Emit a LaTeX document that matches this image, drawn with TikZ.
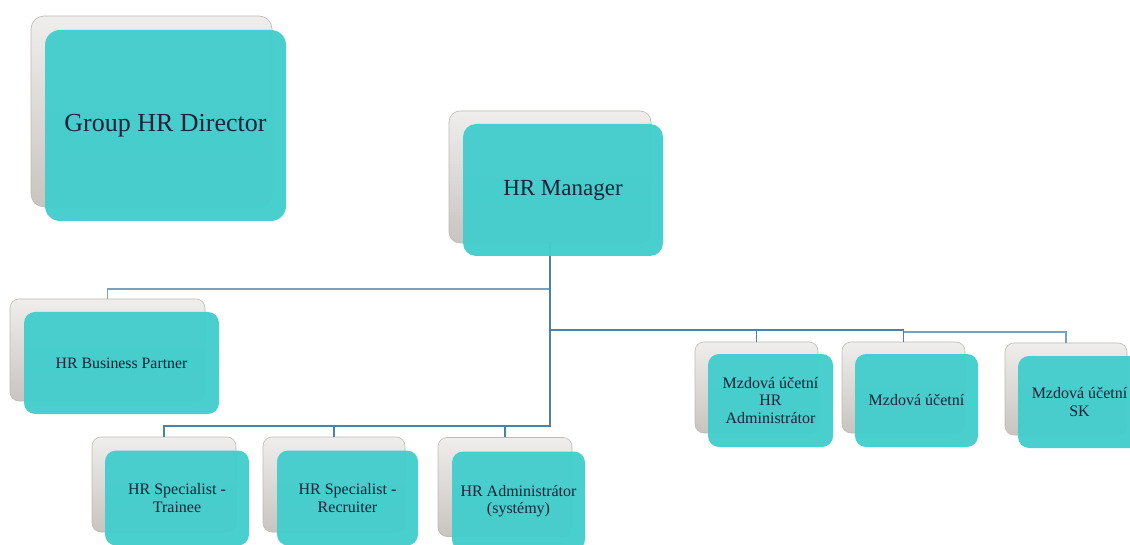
\documentclass[tikz,border=0pt]{standalone}
\usepackage{fontspec}
\setmainfont{Liberation Serif}
\definecolor{boxteal}{HTML}{43CDCD}
\definecolor{backtop}{HTML}{EFEEEC}
\definecolor{backbot}{HTML}{C8C4C0}
\definecolor{boxedge}{HTML}{BEBAB6}
\definecolor{linkblue}{HTML}{4A82AE}
\definecolor{txtnavy}{HTML}{15233A}

\begin{document}
\begin{tikzpicture}[x=1pt,y=-1pt,
  back/.style={rectangle,rounded corners=9pt,draw=boxedge,line width=0.6pt,
    top color=backtop,bottom color=backbot,inner sep=0pt},
  front/.style={rectangle,rounded corners=11pt,fill=boxteal,fill opacity=0.96,
    text opacity=1,text=txtnavy,inner sep=2pt,align=center,
    font=\fontsize{16}{17.5}\selectfont},
  link/.style={draw=linkblue,line width=1.1pt}]

  \clip (0,0) rectangle (1130,545);
  \useasboundingbox (0,0) rectangle (1130,545);

  % grey back cards
  \node (dirB)  at (151.5,111.5) [back,rounded corners=13pt,minimum width=241,minimum height=191] {};
  \node (mgrB)  at (550,177)     [back,rounded corners=11pt,minimum width=202,minimum height=132] {};
  \node (hrbpB) at (107.5,350)   [back,minimum width=195,minimum height=102] {};
  \node (sptB)  at (164,484.5)   [back,minimum width=144,minimum height=95] {};
  \node (sprB)  at (334,484.5)   [back,minimum width=142,minimum height=95] {};
  \node (admB)  at (505,487)     [back,minimum width=134,minimum height=99] {};
  \node (mu1B)  at (756.5,387.5) [back,minimum width=123,minimum height=91] {};
  \node (mu2B)  at (903.5,387.5) [back,minimum width=123,minimum height=91] {};
  \node (muskB) at (1066,389)    [back,minimum width=122,minimum height=92] {};

  % connectors
  \draw[link,linkblue!75] (mgrB.south) |- (hrbpB.north |- 0,289) -- (hrbpB.north);
  \draw[link] (mgrB.south) |- (sptB.north |- 0,426) -- (sptB.north);
  \draw[link] (sprB.north |- 0,426) -- (sprB.north);
  \draw[link] (admB.north |- 0,426) -- (admB.north);
  \draw[link] (mgrB.south) |- (mu2B.north |- 0,330) -- (mu2B.north);
  \draw[link] (mu1B.north |- 0,330) -- (mu1B.north);
  \draw[link,linkblue!75] (mu2B.north |- 0,332) -| (muskB.north);

  % teal front cards
  \node (dir)  at (165.5,125.5) [front,rounded corners=15pt,minimum width=241,minimum height=191,
    font=\fontsize{26}{30}\selectfont] {Group HR Director};
  \node (mgr)  at (563,190)     [front,rounded corners=13pt,minimum width=200,minimum height=132,
    font=\fontsize{23}{27}\selectfont] {HR Manager};
  \node (hrbp) at (121.5,363)   [front,minimum width=195,minimum height=102,
    font=\fontsize{15.8}{18}\selectfont] {HR Business Partner};
  \node (spt)  at (177,498)     [front,minimum width=144,minimum height=95] {HR Specialist -\\Trainee};
  \node (spr)  at (347.5,498)   [front,minimum width=141,minimum height=95] {HR Specialist -\\Recruiter};
  \node (adm)  at (518.5,501)   [front,minimum width=133,minimum height=99] {HR Administrátor\\(systémy)};
  \node (mu1)  at (770.5,400.5) [front,minimum width=125,minimum height=93] {Mzdová účetní\\HR\\Administrátor};
  \node (mu2)  at (916.5,400.5) [front,minimum width=123,minimum height=93] {Mzdová účetní};
  \node (musk) at (1079.5,402)  [front,minimum width=123,minimum height=92] {Mzdová účetní\\SK};

\end{tikzpicture}
\end{document}
